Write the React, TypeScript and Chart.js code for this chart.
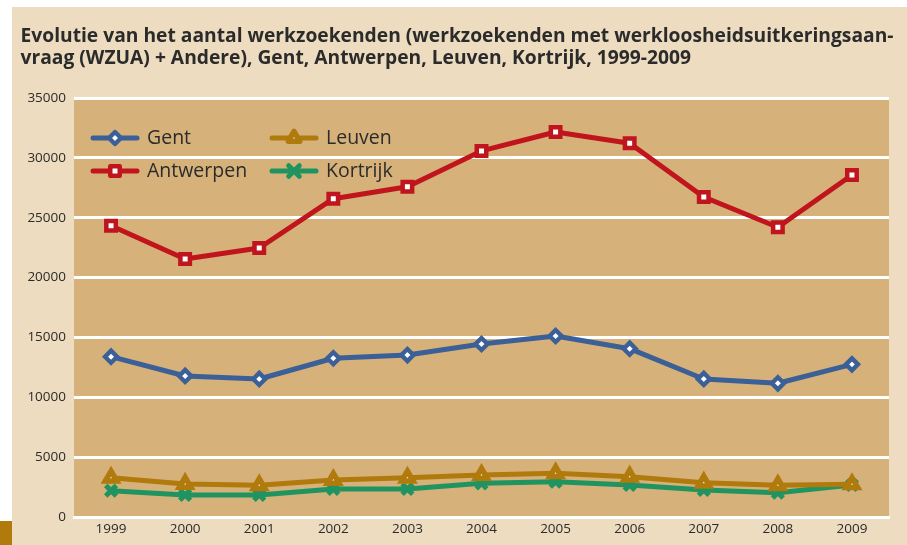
import React, { useEffect, useRef } from 'react';
import { Chart, registerables } from 'chart.js';
import { drawPoint } from 'chart.js/helpers';

Chart.register(...registerables);

const titleLines = [
  'Evolutie van het aantal werkzoekenden (werkzoekenden met werkloosheidsuitkeringsaan-',
  'vraag (WZUA) + Andere), Gent, Antwerpen, Leuven, Kortrijk, 1999-2009',
];
const years = ['1999', '2000', '2001', '2002', '2003', '2004', '2005', '2006', '2007', '2008', '2009'];
const gent = [13390, 11780, 11530, 13260, 13530, 14450, 15120, 14060, 11530, 11170, 12750];
const antwerpen = [24330, 21550, 22470, 26590, 27590, 30580, 32160, 31220, 26730, 24200, 28570];
const leuven = [3280, 2760, 2650, 3090, 3280, 3510, 3650, 3370, 2870, 2650, 2730];
const kortrijk = [2200, 1840, 1840, 2340, 2340, 2810, 2950, 2670, 2255, 2030, 2670];
const seriesNames = ['Gent', 'Antwerpen', 'Leuven', 'Kortrijk'];
const yMin = 0;
const yMax = 35000;
const yStep = 5000;

const COLORS = {
  gent: '#3b5f97',
  antwerpen: '#c0151d',
  leuven: '#b17a0d',
  kortrijk: '#1f9461',
  plot: '#d6b17a',
  page: '#eddcbf',
  accent: '#b17a0d',
  text: '#2b2b2b',
};

const FONT = '"Open Sans", "DejaVu Sans", sans-serif';

const backgroundPlugin = {
  id: 'bgPlugin',
  beforeDraw(chart: any) {
    const { ctx, chartArea } = chart;
    const W = chart.width;
    const H = chart.height;
    ctx.save();
    ctx.fillStyle = '#ffffff';
    ctx.fillRect(0, 0, W, H);
    ctx.fillStyle = COLORS.page;
    ctx.fillRect(12, 7, W - 12, H - 7);
    ctx.fillStyle = COLORS.accent;
    ctx.fillRect(0, 521, 12, H - 521);
    ctx.fillStyle = COLORS.plot;
    ctx.fillRect(chartArea.left, chartArea.top, chartArea.right - chartArea.left, chartArea.bottom - chartArea.top);

    // title
    ctx.fillStyle = COLORS.text;
    ctx.font = `bold 20px ${FONT}`;
    ctx.textBaseline = 'alphabetic';
    ctx.textAlign = 'left';
    const natural = ctx.measureText(titleLines[0]).width;
    const s = 873 / natural;
    const baselines = [42, 64];
    titleLines.forEach((line, i) => {
      ctx.save();
      ctx.translate(20.5, baselines[i]);
      ctx.scale(s, 1);
      ctx.fillText(line, 0, 0);
      ctx.restore();
    });
    ctx.restore();
  },
};

const legendPlugin = {
  id: 'customLegend',
  afterDraw(chart: any) {
    const { ctx } = chart;
    const positions = [
      { x: 91, y: 138 },
      { x: 91, y: 171 },
      { x: 270, y: 138 },
      { x: 270, y: 171 },
    ];
    ctx.save();
    chart.data.datasets.forEach((ds: any, i: number) => {
      const p = positions[i];
      ctx.strokeStyle = ds.borderColor;
      ctx.lineWidth = 5;
      ctx.lineCap = 'round';
      ctx.beginPath();
      ctx.moveTo(p.x + 2, p.y);
      ctx.lineTo(p.x + 46, p.y);
      ctx.stroke();
      ctx.lineCap = 'round';
      ctx.lineJoin = 'round';
      ctx.fillStyle = ds.pointBackgroundColor;
      ctx.strokeStyle = ds.borderColor;
      ctx.lineWidth = ds.pointBorderWidth;
      drawPoint(ctx, { pointStyle: ds.pointStyle, rotation: 0, borderWidth: ds.pointBorderWidth, radius: ds.pointRadius } as any, p.x + 24, p.y);
      ctx.fillStyle = COLORS.text;
      ctx.font = `19.5px ${FONT}`;
      ctx.textBaseline = 'middle';
      ctx.textAlign = 'left';
      ctx.fillText(ds.label, p.x + 56, p.y + 0.5);
    });
    ctx.restore();
  },
};

export default function App() {
  const ref = useRef<HTMLCanvasElement | null>(null);
  useEffect(() => {
    if (!ref.current) return;
    const common = {
      borderWidth: 5,
      tension: 0,
      borderJoinStyle: 'round' as const,
      pointBackgroundColor: '#ffffff',
    };
    const chart = new Chart(ref.current, {
      type: 'line',
      data: {
        labels: years,
        datasets: [
          { ...common, label: seriesNames[0], data: gent, borderColor: COLORS.gent, pointBorderColor: COLORS.gent, pointStyle: 'rectRot', pointRadius: 6, pointBorderWidth: 4.4 },
          { ...common, label: seriesNames[1], data: antwerpen, borderColor: COLORS.antwerpen, pointBorderColor: COLORS.antwerpen, pointStyle: 'rect', pointRadius: 6.7, pointBorderWidth: 4.5 },
          { ...common, label: seriesNames[2], data: leuven, borderColor: COLORS.leuven, pointBorderColor: COLORS.leuven, pointStyle: 'triangle', pointRadius: 6.6, pointBorderWidth: 5.5 },
          { ...common, label: seriesNames[3], data: kortrijk, borderColor: COLORS.kortrijk, pointBorderColor: COLORS.kortrijk, pointBackgroundColor: COLORS.kortrijk, pointStyle: 'crossRot', pointRadius: 7.5, pointBorderWidth: 5 },
        ],
      },
      options: {
        responsive: false,
        animation: false,
        devicePixelRatio: 1,
        layout: { padding: { top: 98, right: 18, left: 0, bottom: 0 } },
        plugins: {
          legend: { display: false },
          title: { display: false },
          tooltip: { enabled: false },
        },
        scales: {
          x: {
            offset: true,
            grid: { display: false, drawTicks: false },
            border: { display: true, color: '#ffffff', width: 3 },
            ticks: { color: COLORS.text, font: { family: FONT, size: 13.5 }, padding: 4, maxRotation: 0 },
            afterFit(scale: any) {
              scale.height = 28;
            },
          },
          y: {
            min: yMin,
            max: yMax,
            grid: { color: '#ffffff', lineWidth: 3, drawTicks: false },
            border: { display: false },
            ticks: {
              stepSize: yStep,
              color: COLORS.text,
              font: { family: FONT, size: 13.5 },
              padding: 8,
              callback: (v: any) => String(v),
            },
            afterFit(scale: any) {
              scale.width = 74;
            },
          },
        },
      },
      plugins: [backgroundPlugin, legendPlugin],
    });
    return () => chart.destroy();
  }, []);
  return (
    <div style={{ position: 'fixed', left: 0, top: 0, width: 907, height: 545 }}>
      <canvas ref={ref} width={907} height={545} style={{ width: 907, height: 545, display: 'block' }} />
    </div>
  );
}
